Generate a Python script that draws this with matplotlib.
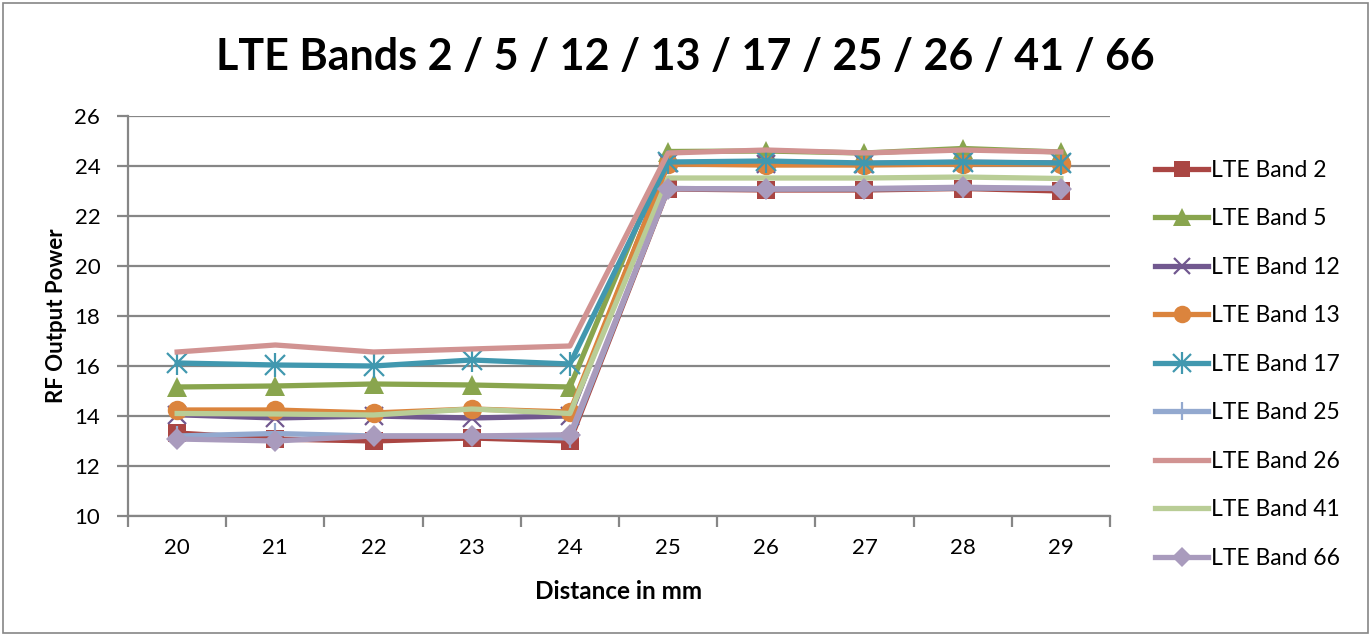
import matplotlib.pyplot as plt
from matplotlib.patches import Rectangle

plt.rcParams['font.family'] = ['Lato', 'DejaVu Sans']

distance = ["20", "21", "22", "23", "24", "25", "26", "27", "28", "29"]

band_2 = [13.32, 13.08, 13.0, 13.12, 13.0, 23.08, 23.04, 23.04, 23.1, 23.0]
band_5 = [15.16, 15.2, 15.28, 15.24, 15.16, 24.58, 24.6, 24.52, 24.7, 24.56]
band_12 = [14.05, 13.92, 14.0, 13.92, 14.0, 24.12, 24.1, 24.1, 24.15, 24.12]
band_13 = [14.24, 14.24, 14.12, 14.28, 14.16, 24.08, 24.04, 24.04, 24.08, 24.08]
band_17 = [16.12, 16.04, 16.0, 16.24, 16.08, 24.16, 24.2, 24.12, 24.16, 24.12]
band_25 = [13.2, 13.3, 13.2, 13.2, 13.12, 23.1, 23.08, 23.08, 23.12, 23.1]
band_26 = [16.56, 16.84, 16.56, 16.68, 16.8, 24.52, 24.64, 24.52, 24.64, 24.56]
band_41 = [14.1, 14.08, 14.04, 14.28, 14.1, 23.52, 23.52, 23.52, 23.56, 23.5]
band_66 = [13.08, 13.0, 13.2, 13.2, 13.25, 23.1, 23.08, 23.1, 23.15, 23.1]

series = [
    ("LTE Band 2", band_2, "#AA4643", "s", 13),
    ("LTE Band 5", band_5, "#89A54E", "^", 14),
    ("LTE Band 12", band_12, "#71588F", "x", 13),
    ("LTE Band 13", band_13, "#DB843D", "o", 14),
    ("LTE Band 17", band_17, "#4198AF", "*", 14),
    ("LTE Band 25", band_25, "#93A9CF", "|", 14),
    ("LTE Band 26", band_26, "#D19392", None, 0),
    ("LTE Band 41", band_41, "#B9CD96", None, 0),
    ("LTE Band 66", band_66, "#A99BBD", "D", 11),
]

fig = plt.figure(figsize=(13.71, 6.36), dpi=100)
ax = fig.add_axes([0.0934, 0.1887, 0.7162, 0.6289])

# outer chart border
fig.patches.append(Rectangle((0.002, 0.004), 0.996, 0.992, transform=fig.transFigure,
                             fill=False, edgecolor="#868686", linewidth=1.2))

x = list(range(len(distance)))
lw = 3.8
handles, labels = [], []
for name, vals, color, marker, ms in series:
    if marker == "*":
        # asterisk marker: an x with a vertical bar through it
        line, = ax.plot(x, vals, color=color, linewidth=lw, marker="x", markersize=ms,
                        markeredgewidth=1.6, zorder=3)
        bar, = ax.plot(x, vals, linestyle="none", marker="|", markersize=ms + 3,
                       markeredgewidth=1.6, color=color, zorder=3)
        handles.append((line, bar))
    elif marker in ("x", "|"):
        line, = ax.plot(x, vals, color=color, linewidth=lw, marker=marker, markersize=ms,
                        markeredgewidth=1.6, zorder=3)
        handles.append(line)
    elif marker is None:
        line, = ax.plot(x, vals, color=color, linewidth=lw, zorder=3)
        handles.append(line)
    else:
        line, = ax.plot(x, vals, color=color, linewidth=lw, marker=marker, markersize=ms,
                        markeredgewidth=0, zorder=3)
        handles.append(line)
    labels.append(name)

ax.set_xlim(-0.5, len(distance) - 0.5)
ax.set_ylim(10, 26)
ax.set_yticks(range(10, 27, 2))
ax.set_xticks(x)
ax.set_xticklabels(distance)
ax.set_xticks([i - 0.5 for i in range(len(distance) + 1)], minor=True)

ax.grid(axis="y", color="#868686", linewidth=1.6, zorder=0)
ax.set_axisbelow(True)
for side in ("top", "right"):
    ax.spines[side].set_visible(False)
for side in ("left", "bottom"):
    ax.spines[side].set_color("#868686")
    ax.spines[side].set_linewidth(1.6)

ax.tick_params(axis="y", which="major", length=8, width=1.6, color="#868686",
               labelsize=16, pad=12)
ax.tick_params(axis="x", which="major", length=0, labelsize=16, pad=16)
ax.tick_params(axis="x", which="minor", length=8, width=1.6, color="#868686")

fig.text(0.5, 0.91, "LTE Bands 2 / 5 / 12 / 13 / 17 / 25 / 26 / 41 / 66",
         fontsize=31, fontweight="bold", ha="center", va="center")
ax.set_xlabel("Distance in mm", fontsize=17.5, fontweight="bold", labelpad=16)
ax.set_ylabel("RF Output Power", fontsize=16, fontweight="bold", labelpad=5)

fig.legend(handles=handles, labels=labels, loc="upper left",
           bbox_to_anchor=(0.836, 0.763), frameon=False, fontsize=16.5,
           labelspacing=1.2, handlelength=2.3, handletextpad=0.15,
           borderaxespad=0, markerscale=0.9)

fig.savefig("out.png", dpi=100)
